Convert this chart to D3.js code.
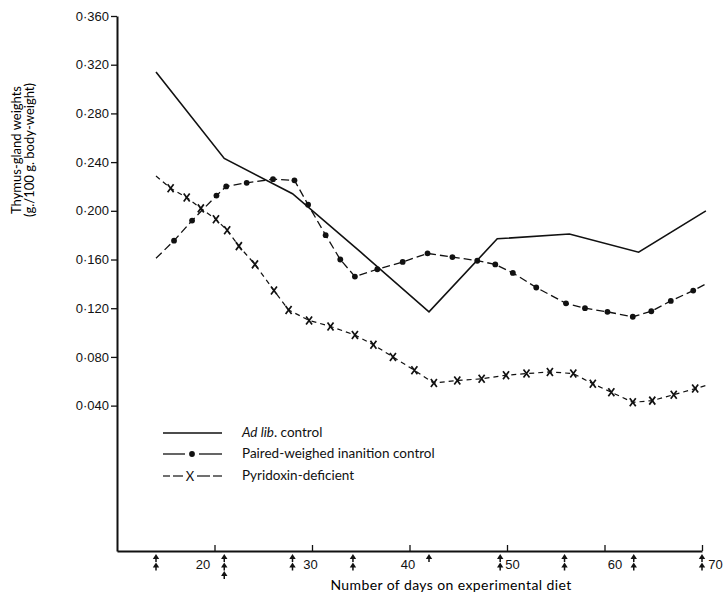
<!DOCTYPE html>
<html>
<head>
<meta charset="utf-8">
<title>Thymus-gland weights</title>
<style>
  body { margin: 0; background: #fff; }
  svg { display: block; font-family: Lato, "Open Sans", sans-serif; }
  .axis path, .axis line { stroke: #111; }
  .axis text { fill: #111; font-size: 13px; }
</style>
</head>
<body>
<svg width="725" height="596"></svg>
<script src="https://cdn.jsdelivr.net/npm/d3@7"></script>
<script>

// days on experimental diet / thymus weight (g./100 g. body-weight)
var adLibDays   = [14, 21, 28, 35, 42, 49, 56.4, 63.5, 70.4];
var adLibValues = [0.314, 0.243, 0.214, 0.166, 0.117, 0.177, 0.181, 0.166, 0.200];

var pairedDays   = [14, 15.85, 17.7, 20.2, 21.2, 23.3, 26.0, 28.2, 29.6, 31.4, 32.9, 34.4, 36.7, 39.3, 41.85,
                    44.4, 46.95, 48.8, 50.6, 53.0, 56.05, 58.0, 60.3, 62.9, 64.8, 66.8, 69.1, 70.4];
var pairedValues = [0.161, 0.1755, 0.192, 0.2125, 0.220, 0.223, 0.226, 0.225, 0.205, 0.180, 0.160, 0.146, 0.152, 0.158, 0.165,
                    0.162, 0.159, 0.156, 0.149, 0.137, 0.124, 0.120, 0.117, 0.113, 0.1175, 0.126, 0.1345, 0.140];

var pyridoxinDays   = [14, 15.5, 17.15, 18.6, 20.15, 21.3, 22.5, 24.15, 26.1, 27.6, 29.7, 31.9, 34.4, 36.3, 38.3, 40.5,
                       42.5, 44.9, 47.4, 49.9, 52.0, 54.4, 56.8, 58.8, 60.7, 62.9, 64.9, 67.1, 69.3, 70.4];
var pyridoxinValues = [0.2286, 0.2185, 0.211, 0.202, 0.193, 0.184, 0.171, 0.156, 0.1345, 0.1186, 0.110, 0.105, 0.098, 0.090, 0.080, 0.069,
                       0.0585, 0.0607, 0.062, 0.065, 0.0663, 0.0677, 0.0663, 0.058, 0.051, 0.0427, 0.0441, 0.049, 0.054, 0.0565];

var yTicks = [0.04, 0.08, 0.12, 0.16, 0.20, 0.24, 0.28, 0.32, 0.36];
var xTicks = [20, 30, 40, 50, 60, 70];

// kill days marked by arrows under the axis, and how many arrows
var arrowDays   = [14, 21, 28, 34.2, 42, 49.3, 55.9, 63, 70];
var arrowCounts = [2, 3, 2, 2, 1, 2, 2, 2, 2];

var legendLabels = ["Ad lib. control", "Paired-weighed inanition control", "Pyridoxin-deficient"];

var svg = d3.select("svg");

var x = d3.scaleLinear().domain([10, 70]).range([117, 702]);
var y = d3.scaleLinear().domain([-0.0794, 0.36]).range([551, 16]);

function fmt(v) { return d3.format(".3f")(v).replace(".", "\u00b7"); }

// y axis
var yAxis = svg.append("g")
    .attr("class", "axis")
    .attr("transform", "translate(" + x(10) + ",0)")
    .call(d3.axisLeft(y).tickValues(yTicks).tickSize(6).tickSizeOuter(0).tickPadding(2).tickFormat(fmt));
yAxis.select(".domain").attr("stroke-width", 2);
yAxis.selectAll(".tick line").attr("stroke-width", 1.3);

// x axis, ticks pointing inwards
var labelShift = {20: -12, 30: -2, 40: -2, 50: 5, 60: 10, 70: 13};
var xAxis = svg.append("g")
    .attr("class", "axis")
    .attr("transform", "translate(0," + y(-0.0794) + ")")
    .call(d3.axisBottom(x).tickValues(xTicks).tickSize(-6).tickSizeOuter(0).tickPadding(9));
xAxis.select(".domain").attr("stroke-width", 2);
xAxis.selectAll(".tick line").attr("stroke-width", 1.3);
xAxis.selectAll(".tick text")
    .attr("x", function(d) { return labelShift[d]; })
    .attr("font-size", 14);

// axis titles
svg.append("text")
    .attr("x", 451).attr("y", 590)
    .attr("text-anchor", "middle")
    .attr("font-size", 14)
    .attr("letter-spacing", 0.4)
    .text("Number of days on experimental diet");

var yt = svg.append("text")
    .attr("transform", "translate(21,150) rotate(-90)")
    .attr("text-anchor", "middle")
    .attr("font-size", 13);
yt.append("tspan").attr("x", 0).attr("dy", 0).text("Thymus-gland weights");
yt.append("tspan").attr("x", 0).attr("dy", 13).text("(g./100 g. body-weight)");

// arrows
var arrowG = svg.append("g").attr("fill", "#111").attr("stroke", "#111");
arrowDays.forEach(function(d, i) {
  for (var k = 0; k < arrowCounts[i]; k++) {
    var top = 554 + k * 8.5;
    arrowG.append("line")
        .attr("x1", x(d)).attr("x2", x(d))
        .attr("y1", top + 3).attr("y2", top + 8)
        .attr("stroke-width", 1.5);
    arrowG.append("path")
        .attr("d", "M" + x(d) + "," + top + " l-3.2,5 l6.4,0 Z")
        .attr("stroke", "none");
  }
});

// series lines
var line = d3.line()
    .x(function(d) { return x(d[0]); })
    .y(function(d) { return y(d[1]); });

var adLib = d3.zip(adLibDays, adLibValues);
var paired = d3.zip(pairedDays, pairedValues);
var pyrid = d3.zip(pyridoxinDays, pyridoxinValues);

svg.append("path")
    .datum(adLib)
    .attr("fill", "none")
    .attr("stroke", "#111")
    .attr("stroke-width", 1.6)
    .attr("d", line);

svg.append("path")
    .datum(paired)
    .attr("fill", "none")
    .attr("stroke", "#111")
    .attr("stroke-width", 1.3)
    .attr("stroke-dasharray", "8,4")
    .attr("d", line);

svg.append("g").selectAll("circle")
    .data(paired.slice(1, -1))
    .enter().append("circle")
    .attr("cx", function(d) { return x(d[0]); })
    .attr("cy", function(d) { return y(d[1]); })
    .attr("r", 2.9)
    .attr("fill", "#111");

svg.append("path")
    .datum(pyrid)
    .attr("fill", "none")
    .attr("stroke", "#111")
    .attr("stroke-width", 1.2)
    .attr("stroke-dasharray", "5,4")
    .attr("d", line);

function crossPath(cx, cy) {
  return "M" + (cx - 3) + "," + (cy - 4) + "L" + (cx + 3) + "," + (cy + 4) +
         "M" + (cx + 3) + "," + (cy - 4) + "L" + (cx - 3) + "," + (cy + 4);
}

svg.append("g").selectAll("path")
    .data(pyrid.slice(1, -1))
    .enter().append("path")
    .attr("d", function(d) { return crossPath(x(d[0]), y(d[1])); })
    .attr("stroke", "#111")
    .attr("stroke-width", 1.7);

// legend
var legend = svg.append("g").attr("font-size", 13.5).attr("fill", "#111");
var rowY = [433, 454, 476];

legend.append("line")
    .attr("x1", 163).attr("x2", 222).attr("y1", rowY[0]).attr("y2", rowY[0])
    .attr("stroke", "#111").attr("stroke-width", 1.3);

[[163, 185], [199, 222]].forEach(function(s) {
  legend.append("line")
      .attr("x1", s[0]).attr("x2", s[1]).attr("y1", rowY[1]).attr("y2", rowY[1])
      .attr("stroke", "#111").attr("stroke-width", 1.3);
});
legend.append("circle").attr("cx", 192).attr("cy", rowY[1]).attr("r", 2.9).attr("fill", "#111");

[[163, 170], [173, 183], [197, 210], [213, 222]].forEach(function(s) {
  legend.append("line")
      .attr("x1", s[0]).attr("x2", s[1]).attr("y1", rowY[2]).attr("y2", rowY[2])
      .attr("stroke", "#111").attr("stroke-width", 1.2);
});
legend.append("text")
    .attr("x", 190).attr("y", rowY[2] + 5)
    .attr("text-anchor", "middle")
    .attr("font-size", 13)
    .text("X");

var t0 = legend.append("text").attr("x", 242).attr("y", rowY[0] + 4);
t0.append("tspan").attr("font-style", "italic").text("Ad lib");
t0.append("tspan").text(". control");
legend.append("text").attr("x", 242).attr("y", rowY[1] + 4).text(legendLabels[1]);
legend.append("text").attr("x", 242).attr("y", rowY[2] + 4).text(legendLabels[2]);

</script>
</body>
</html>
